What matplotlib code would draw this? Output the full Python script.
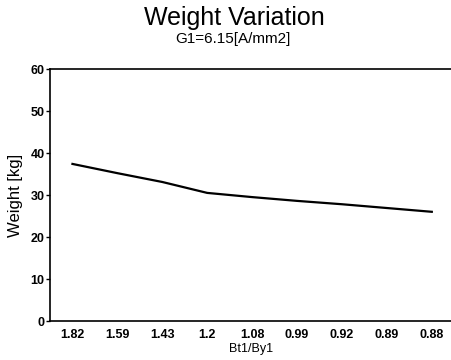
import matplotlib
matplotlib.use("Agg")
import matplotlib.pyplot as plt

ratios = ["1.82", "1.59", "1.43", "1.2", "1.08", "0.99", "0.92", "0.89", "0.88"]
weight = [37.4, 35.2, 33.1, 30.5, 29.5, 28.6, 27.8, 26.9, 26.0]
yticks = [0, 10, 20, 30, 40, 50, 60]

plt.rcParams["font.family"] = ["Liberation Sans", "DejaVu Sans"]

fig = plt.figure(figsize=(4.52, 3.6), dpi=100)
ax = fig.add_axes([50 / 452, 39 / 360, 402 / 452, 252 / 360])

x = list(range(len(ratios)))
ax.plot(x, weight, color="black", linewidth=1.6)

ax.set_xlim(-0.5, 8.45)
ax.set_ylim(0, 60)
ax.set_xticks(x)
ax.set_xticklabels(ratios, fontsize=9, fontweight="bold")
ax.set_yticks(yticks)
ax.set_yticklabels([str(v) for v in yticks], fontsize=9, fontweight="bold")
ax.tick_params(axis="x", length=0, pad=6)
ax.tick_params(axis="y", length=3, width=1, pad=1)

ax.spines["right"].set_visible(False)
for s in ["left", "top", "bottom"]:
    ax.spines[s].set_linewidth(1.2)

ax.set_xlabel("Bt1/By1", fontsize=9, labelpad=1)
ax.set_ylabel("Weight [kg]", fontsize=12, labelpad=5)

fig.text(0.518, 0.93, "Weight Variation", ha="center", va="baseline", fontsize=18)
fig.text(0.516, 0.88, "G1=6.15[A/mm2]", ha="center", va="baseline", fontsize=11)

fig.savefig("out.png", dpi=100)
